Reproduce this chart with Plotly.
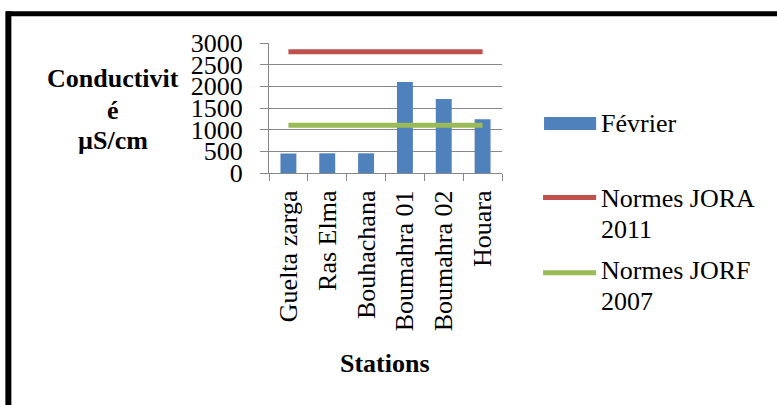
import plotly.graph_objects as go

# Conductivity per station (µS/cm), February campaign, with regulatory limits
stations = ["Guelta zarga", "Ras Elma", "Bouhachana", "Boumahra 01", "Boumahra 02", "Houara"]
fevrier = [450, 455, 455, 2100, 1710, 1240]
norme_jora_2011 = [2800, 2800, 2800, 2800, 2800, 2800]
norme_jorf_2007 = [1100, 1100, 1100, 1100, 1100, 1100]
y_ticks = [0, 500, 1000, 1500, 2000, 2500, 3000]

W, H = 777, 405
L, R, T, B = 269.3, 502.0, 43.3, 172.7   # plot area edges in pixels

BLUE, RED, GREEN = "#4F81BD", "#C0504D", "#9BBB59"
GRID = "#878787"
SERIF = "Liberation Serif"


def px(x):
    return (x - L) / (R - L)


def py(y):
    return (B - y) / (B - T)


fig = go.Figure()
fig.add_trace(go.Bar(x=stations, y=fevrier, name="Février", marker_color=BLUE,
                     marker_line_width=0, width=0.41, showlegend=False))
fig.add_trace(go.Scatter(x=stations, y=norme_jora_2011, name="Normes JORA 2011", mode="lines",
                         line=dict(color=RED, width=5), showlegend=False))
fig.add_trace(go.Scatter(x=stations, y=norme_jorf_2007, name="Normes JORF 2007", mode="lines",
                         line=dict(color=GREEN, width=5), showlegend=False))

shapes = [
    # outer frame (top and left edges)
    dict(type="rect", xref="paper", yref="paper", x0=px(7), x1=px(W + 5), y0=py(16.7), y1=py(11.7),
         fillcolor="black", line_width=0, layer="above"),
    dict(type="rect", xref="paper", yref="paper", x0=px(6), x1=px(12), y0=py(H + 5), y1=py(11.7),
         fillcolor="black", line_width=0, layer="above"),
    # legend swatches
    dict(type="rect", xref="paper", yref="paper", x0=px(544), x1=px(596), y0=py(130), y1=py(117),
         fillcolor=BLUE, line_width=0),
    dict(type="line", xref="paper", yref="paper", x0=px(543), x1=px(596), y0=py(197), y1=py(197),
         line=dict(color=RED, width=5)),
    dict(type="line", xref="paper", yref="paper", x0=px(543), x1=px(596), y0=py(272), y1=py(272),
         line=dict(color=GREEN, width=5)),
]


def label(text, x, y, bold=False, xanchor="center"):
    return dict(text=f"<b>{text}</b>" if bold else text, xref="paper", yref="paper",
                x=px(x), y=py(y), xanchor=xanchor, yanchor="middle", showarrow=False,
                font=dict(family=SERIF, size=26, color="black"))


annotations = [
    label("Conductivit", 113.5, 79, bold=True),
    label("é", 113.5, 110, bold=True),
    label("µS/cm", 113.5, 140, bold=True),
    label("Stations", 385, 362, bold=True),
    label("Février", 599, 123, xanchor="left"),
    label("Normes JORA", 599, 198, xanchor="left"),
    label("2011", 599, 229, xanchor="left"),
    label("Normes JORF", 599, 270, xanchor="left"),
    label("2007", 599, 301, xanchor="left"),
]

fig.update_layout(
    width=W, height=H,
    margin=dict(l=L, r=W - R, t=T, b=H - B, pad=0),
    paper_bgcolor="white", plot_bgcolor="white",
    bargap=0.59,
    shapes=shapes, annotations=annotations,
    font=dict(family=SERIF, size=26, color="black"),
    xaxis=dict(type="category", showgrid=False, showline=True, linecolor=GRID, linewidth=1.3,
               ticks="outside", tickson="boundaries", ticklen=7, tickcolor=GRID, tickwidth=1.3,
               tickangle=-90, tickfont=dict(family=SERIF, size=26, color="black"),
               ticklabelstandoff=6),
    yaxis=dict(range=[0, 3000], tickvals=y_ticks, showgrid=True, gridcolor=GRID, gridwidth=1.3,
               showline=True, linecolor=GRID, linewidth=1.3, zeroline=False,
               ticks="outside", ticklen=8, tickcolor=GRID, tickwidth=1.3,
               tickfont=dict(family=SERIF, size=26, color="black"), ticklabelstandoff=12),
)

fig.write_html("out.html")
